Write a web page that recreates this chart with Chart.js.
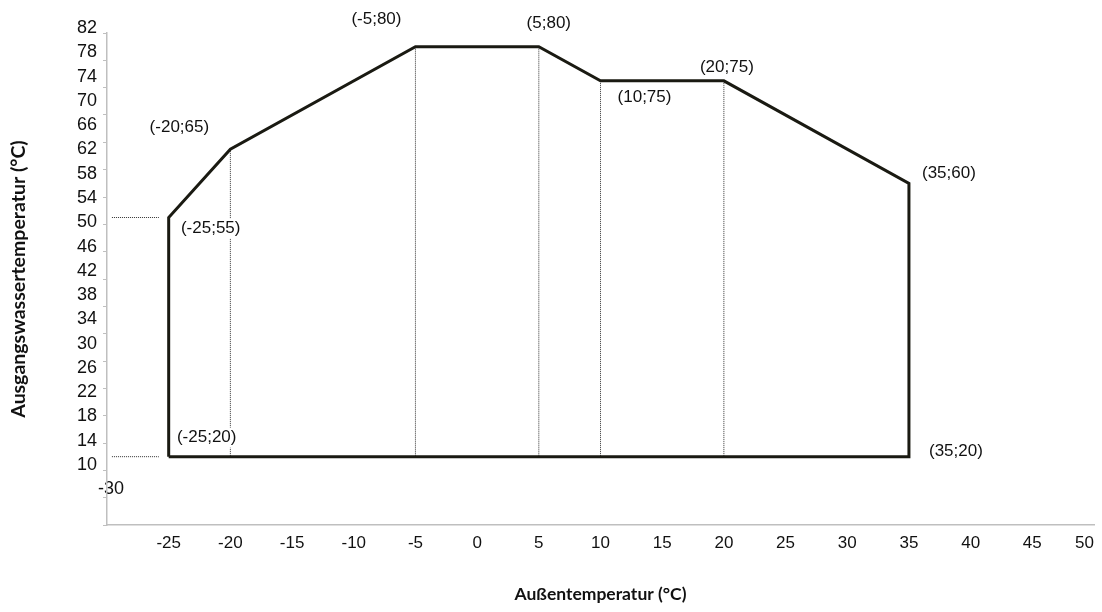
<!DOCTYPE html>
<html>
<head>
<meta charset="utf-8">
<script src="https://cdn.jsdelivr.net/npm/chart.js@4.4.1/dist/chart.umd.min.js"></script>
<style>
  html, body { margin: 0; padding: 0; background: #fff; }
  #wrap { width: 1102px; height: 612px; }
</style>
</head>
<body>
<div id="wrap"><canvas id="chart"></canvas></div>
<script>
// envelope corners: outdoor temp / leaving water temp
const outdoorTemp = [-25, -25, -20, -5, 5, 10, 20, 35, 35, -25]
const waterTemp = [20, 55, 65, 80, 80, 75, 75, 60, 20, 20]

// dotted guide lines
const guideX = [-20, -5, 5, 10, 20]
const guideTop = [65, 80, 80, 75, 75]
const guideBottom = 20
const refLevels = [55, 20]
const refFrom = -29.6
const refTo = -25.8

// axis ranges and the y labels as printed (last one sits by the axis corner)
const xMin = -30, xMax = 50, xStep = 5
const yMin = 10, yMax = 82, yStep = 4
const yTickLabels = ["82", "78", "74", "70", "66", "62", "58", "54", "50", "46", "42", "38", "34", "30", "26", "22", "18", "14", "10", "-30"]
const strayIndex = yTickLabels.length - 1

const axisGrey = "#bfbfbf"
const inkColor = "#111111"
const tickFont = { family: "'Liberation Sans', Arial, sans-serif", size: 18 }
const titleFont = { family: "Lato, 'Open Sans', sans-serif", weight: "bold" }

// "(x;y)" label next to each corner
const pointLabels = {
  id: "pointLabels",
  afterDatasetsDraw(chart, args, opts) {
    const ctx = chart.ctx
    const meta = chart.getDatasetMeta(0)
    ctx.save()
    ctx.font = opts.font
    ctx.textAlign = "center"
    ctx.textBaseline = "middle"
    opts.offsets.forEach(([dx, dy], i) => {
      const pt = meta.data[i]
      const text = `(${outdoorTemp[i]};${waterTemp[i]})`
      const cx = pt.x + dx
      const cy = pt.y + dy
      const w = ctx.measureText(text).width
      ctx.fillStyle = "#ffffff"
      ctx.fillRect(cx - w / 2 - 1, cy - 10, w + 2, 20)
      ctx.fillStyle = inkColor
      ctx.fillText(text, cx, cy)
    })
    ctx.restore()
  },
}

const dotted = {
  yAxisID: "y",
  showLine: true,
  borderColor: "#333333",
  borderWidth: 1,
  borderDash: [1, 1],
  pointRadius: 0,
}

const guideSets = guideX.map((x, i) => ({
  ...dotted,
  data: [{ x: x, y: guideTop[i] }, { x: x, y: guideBottom }],
}))

const refSets = refLevels.map((y) => ({
  ...dotted,
  data: [{ x: refFrom, y: y }, { x: refTo, y: y }],
}))

new Chart(document.getElementById("chart"), {
  type: "scatter",
  data: {
    datasets: [
      {
        yAxisID: "y",
        data: outdoorTemp.map((x, i) => ({ x: x, y: waterTemp[i] })),
        showLine: true,
        borderColor: "#1a1a12",
        borderWidth: 3,
        borderJoinStyle: "miter",
        pointRadius: 0,
        fill: false,
      },
      ...guideSets,
      ...refSets,
    ],
  },
  options: {
    responsive: true,
    maintainAspectRatio: false,
    animation: false,
    layout: { padding: { top: 33, right: 7, bottom: 0, left: 0 } },
    plugins: {
      legend: { display: false },
      tooltip: { enabled: false },
      pointLabels: {
        font: "17px 'Liberation Sans', Arial, sans-serif",
        offsets: [[38, -19], [42, 11], [-51, -22], [-39, -27], [10, -23], [44, 16], [3, -14], [40, -10], [47, -5]],
      },
    },
    scales: {
      x: {
        type: "linear",
        min: xMin,
        max: xMax,
        ticks: {
          stepSize: xStep,
          autoSkip: false,
          maxRotation: 0,
          align: "inner",
          padding: 8,
          color: inkColor,
          font: { ...tickFont, size: 17 },
          callback: (v) => (v === xMin ? "" : v),
        },
        grid: { display: false, drawTicks: false },
        border: { color: axisGrey, width: 1.5 },
        title: {
          display: true,
          text: "Außentemperatur (°C)",
          color: inkColor,
          font: { ...titleFont, size: 17.5 },
          padding: { top: 30, bottom: 7 },
        },
        afterFit: (s) => { s.height = 87 },
      },
      yz: {
        type: "linear",
        position: "left",
        weight: -1,
        reverse: true,
        min: 0.2,
        max: 20.47,
        afterBuildTicks: (s) => { s.ticks = [{ value: strayIndex }] },
        ticks: {
          autoSkip: false,
          mirror: true,
          padding: -9,
          color: inkColor,
          font: tickFont,
          callback: () => yTickLabels[strayIndex],
        },
        grid: { display: false, drawTicks: false },
        border: { display: false },
        afterFit: (s) => { s.width = 0 },
      },
      y: {
        type: "linear",
        position: "left",
        weight: 0,
        min: yMin,
        max: yMax,
        ticks: { display: false, stepSize: yStep },
        grid: { drawOnChartArea: false, drawTicks: true, tickLength: 4, color: axisGrey },
        border: { color: axisGrey, width: 1.5 },
        afterFit: (s) => { s.width = 5 },
      },
      yl: {
        type: "linear",
        position: "left",
        weight: 1,
        reverse: true,
        min: 0.2,
        max: 20.47,
        afterBuildTicks: (s) => { s.ticks = yTickLabels.slice(0, strayIndex).map((_, i) => ({ value: i })) },
        ticks: {
          autoSkip: false,
          padding: 5,
          color: inkColor,
          font: tickFont,
          callback: (v, i) => yTickLabels[i],
        },
        grid: { display: false, drawTicks: false },
        border: { display: false },
        title: {
          display: true,
          text: "Ausgangswassertemperatur (°C)",
          color: inkColor,
          font: { ...titleFont, size: 19.5 },
          padding: { top: 7, bottom: 0 },
        },
        afterFit: (s) => { s.width = 102 },
      },
    },
  },
  plugins: [pointLabels],
})
</script>
</body>
</html>
